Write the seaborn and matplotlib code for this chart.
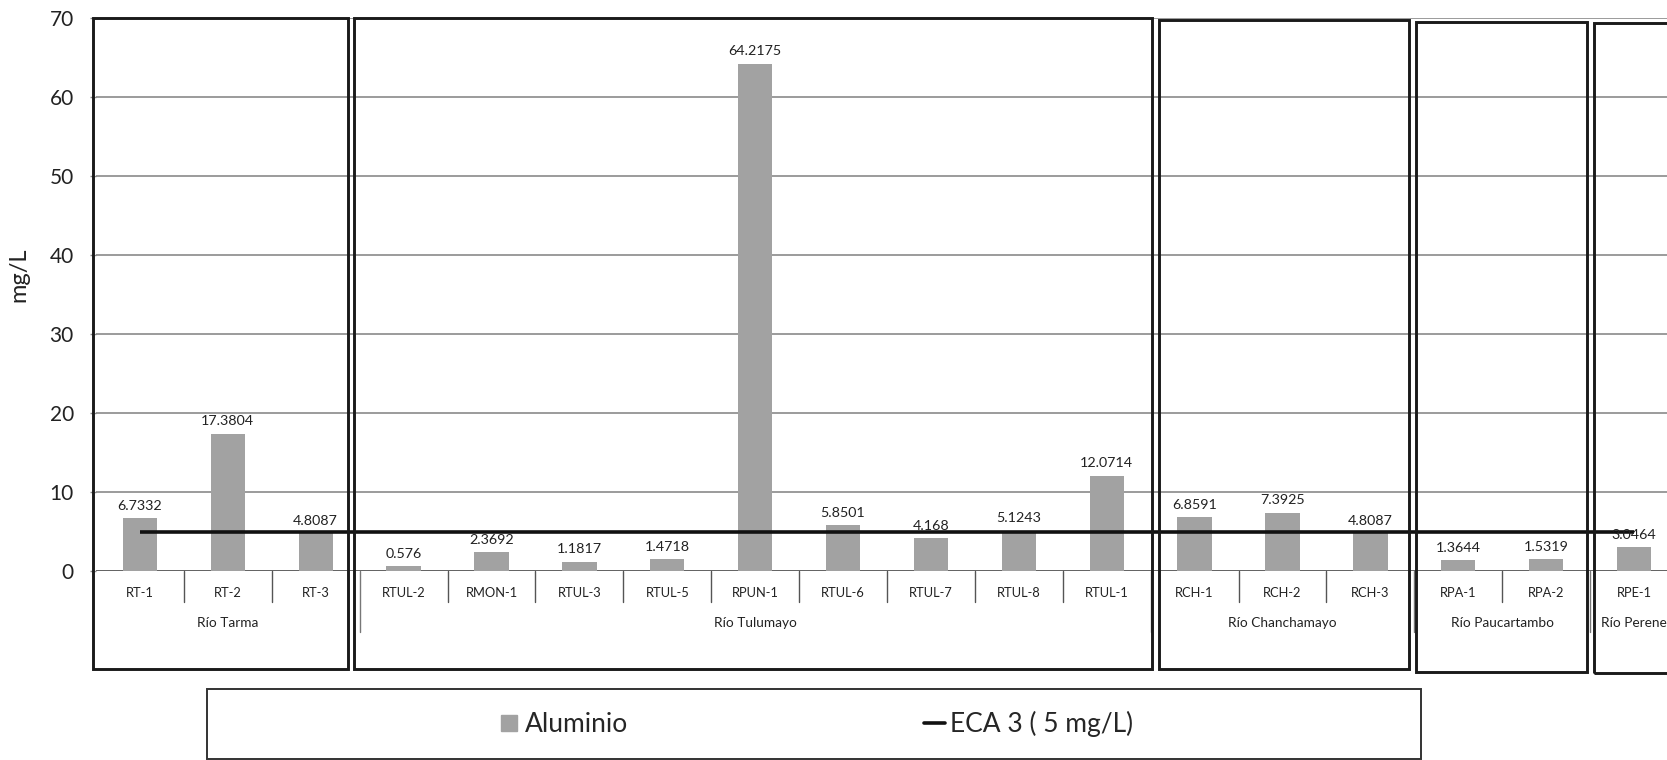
import numpy as np
import matplotlib
matplotlib.use("Agg")
import matplotlib.pyplot as plt
from matplotlib.patches import Rectangle
from matplotlib.lines import Line2D
import seaborn as sns

# Sampling stations, grouped by river, and measured aluminium (mg/L)
stations = ["RT-1", "RT-2", "RT-3",
            "RTUL-2", "RMON-1", "RTUL-3", "RTUL-5", "RPUN-1", "RTUL-6", "RTUL-7", "RTUL-8", "RTUL-1",
            "RCH-1", "RCH-2", "RCH-3",
            "RPA-1", "RPA-2",
            "RPE-1"]
aluminio = [6.7332, 17.3804, 4.8087,
            0.576, 2.3692, 1.1817, 1.4718, 64.2175, 5.8501, 4.168, 5.1243, 12.0714,
            6.8591, 7.3925, 4.8087,
            1.3644, 1.5319,
            3.0464]
rivers = ["Río Tarma", "Río Tulumayo", "Río Chanchamayo", "Río Paucartambo", "Río Perene"]
river_sizes = [3, 9, 3, 2, 1]
eca_limit = 5.0          # ECA category 3 standard, mg/L
y_ticks = [0, 10, 20, 30, 40, 50, 60, 70]

# hand-placed river frames: small nudges of each frame edge (in category units)
frame_left_nudge = [-0.034, -0.065, 0.093, 0.017, 0.042]
frame_right_nudge = [-0.133, 0.014, -0.063, -0.038, 0.0]
frame_top = [70.0, 70.0, 69.8, 69.5, 69.4]
frame_bottom = [-12.4, -12.4, -12.4, -12.8, -12.9]

sns.set_theme(style="white")
plt.rcParams["font.family"] = ["Lato", "DejaVu Sans"]

fig = plt.figure(figsize=(16.67, 7.60), dpi=100)
ax = fig.add_axes([96 / 1667, 1 - 571 / 760, 1582 / 1667, 553 / 760])

bar_color = "#a2a2a2"
sns.barplot(x=stations, y=aluminio, color=bar_color, saturation=1, width=0.39,
            edgecolor="none", linewidth=0, ax=ax, zorder=2)

n = len(stations)
xpos = np.arange(n)

# ECA reference line across all stations
ax.plot([xpos[0], xpos[-1]], [eca_limit, eca_limit], color="#111111", lw=2.6,
        zorder=3, solid_capstyle="butt")

# Value labels above each bar
for x, v in zip(xpos, aluminio):
    ax.annotate(str(v), (x, v), xytext=(0, 4.5), textcoords="offset points",
                ha="center", va="bottom", fontsize=10.3, color="#222222", zorder=4)

ax.set_xlim(-0.5, n - 0.5)
ax.set_ylim(0, 70)
ax.set_yticks(y_ticks)
ax.yaxis.grid(True, color="#8a8a8a", lw=1.2, zorder=0)
ax.xaxis.grid(False)
for s in ax.spines.values():
    s.set_visible(False)
ax.tick_params(axis="y", labelsize=15, colors="#222222", length=4, width=1,
               color="#888888", left=True, pad=12)
ax.set_xticks([])
ax.set_xlabel("")
ax.set_ylabel("mg/L", fontsize=17, color="#222222")
ax.yaxis.set_label_coords(-0.042, 0.535)

# Category axis baseline
ax.axhline(0, color="#555555", lw=1.1, zorder=1)

# Multi-level category axis: station labels, inner ticks, river labels
label_kw = dict(ha="center", va="center", color="#222222", clip_on=False)
for x, name in zip(xpos, stations):
    ax.text(x, -2.8, name, fontsize=9.3, **label_kw)

start = 0
for i, (river, size) in enumerate(zip(rivers, river_sizes)):
    end = start + size - 1
    for b in np.arange(start, end) + 0.5:
        ax.plot([b, b], [0, -3.9], color="#555555", lw=1, clip_on=False)
    ax.text((start + end) / 2, -6.6, river, fontsize=9.8, **label_kw)
    left, right = start - 0.5, end + 0.5
    if start > 0:
        ax.plot([left, left], [0, -7.7], color="#777777", lw=1, clip_on=False)
    # river group frame
    fl = left + frame_left_nudge[i]
    fr = right + frame_right_nudge[i]
    ax.add_patch(Rectangle((fl, frame_bottom[i]), fr - fl, frame_top[i] - frame_bottom[i],
                           fill=False, edgecolor="#1a1a1a", lw=2.1, clip_on=False, zorder=5))
    start = end + 1

# Legend in its own framed box
fig.add_artist(Rectangle((207 / 1667, 1 / 760), (1421 - 207) / 1667, 70 / 760,
                         transform=fig.transFigure, fill=False,
                         edgecolor="#333333", lw=1.4))
handles = [Line2D([], [], marker="s", markersize=11, color=bar_color, linestyle="none"),
           Line2D([], [], color="#111111", lw=2.6)]
fig.legend(handles, ["Aluminio", "ECA 3 ( 5 mg/L)"], loc="center",
           bbox_to_anchor=(816 / 1667, 1 - 724 / 760), ncol=2, frameon=False,
           fontsize=19, handlelength=0.8, handletextpad=0.2,
           columnspacing=11.2)

fig.savefig("out.png", dpi=100)
